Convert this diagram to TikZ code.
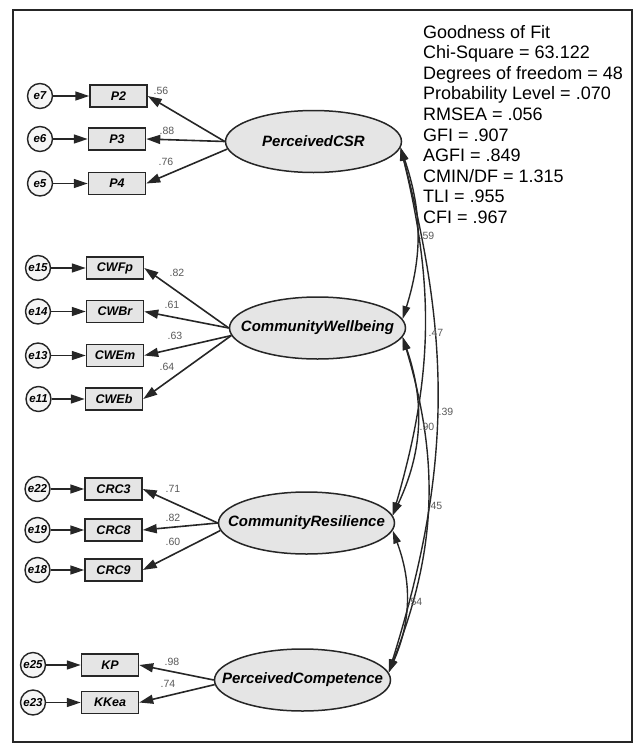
\documentclass[tikz,border=0pt]{standalone}
\usepackage{fontspec}
\setmainfont{Liberation Sans}
\usetikzlibrary{arrows.meta,shapes.geometric}
\begin{document}
\begin{tikzpicture}[x=1pt,y=-1pt,
  lat/.style={ellipse,draw=black!85,line width=1.5pt,fill=black!10,minimum width=176pt,minimum height=62pt,inner sep=0pt,font=\fontsize{15}{18}\selectfont\bfseries\itshape},
  obs/.style={rectangle,draw=black!85,line width=1.5pt,fill=black!10,minimum width=57pt,minimum height=22pt,inner sep=0pt,font=\fontsize{12.5}{14}\selectfont\bfseries\itshape},
  err/.style={circle,draw=black!85,line width=1.4pt,fill=black!4,minimum size=25pt,inner sep=0pt,font=\fontsize{11.5}{14}\selectfont\bfseries\itshape},
  arr/.style={line width=1.6pt,draw=black!85,-{Triangle[length=14pt,width=9pt]}},
  cov/.style={line width=1.4pt,draw=black!85,{Triangle[length=13pt,width=7.5pt]}-{Triangle[length=13pt,width=7.5pt]}},
  lab/.style={font=\fontsize{10.5}{12}\selectfont,text=black!65,inner sep=0pt},
  fitl/.style={font=\fontsize{18}{20}\selectfont,anchor=base west,inner sep=0pt}]
\useasboundingbox (0,0) rectangle (635,744);
\draw[line width=2pt,draw=black!85] (13,10) rectangle (632,742);

% latent variables
\node[lat] (csr) at (313.5,141.5) {\makebox[0pt]{PerceivedCSR}};
\node[lat] (cw) at (317.5,328) {\makebox[0pt]{CommunityWellbeing}};
\node[lat] (cr) at (306.5,523) {\makebox[0pt]{CommunityResilience}};
\node[lat] (pc) at (302.5,680) {\makebox[0pt]{PerceivedCompetence}};

% observed variables
\node[obs] (p2) at (118.5,96) {P2};
\node[obs] (p3) at (117,139) {P3};
\node[obs] (p4) at (117,183.5) {P4};
\node[obs] (cwfp) at (115,268) {CWFp};
\node[obs] (cwbr) at (115,311.5) {CWBr};
\node[obs] (cwem) at (115,355.5) {CWEm};
\node[obs] (cweb) at (114,399) {CWEb};
\node[obs] (crc3) at (113.5,489) {CRC3};
\node[obs] (crc8) at (113.5,530) {CRC8};
\node[obs] (crc9) at (113.5,570) {CRC9};
\node[obs] (kp) at (110,665) {KP};
\node[obs] (kkea) at (110,702.5) {KKea};

% errors
\node[err] (e7) at (40,96) {e7};
\node[err] (e6) at (40,139) {e6};
\node[err] (e5) at (40,183.5) {e5};
\node[err] (e15) at (38,268) {e15};
\node[err] (e14) at (38,311.5) {e14};
\node[err] (e13) at (38,355.5) {e13};
\node[err] (e11) at (38.5,399) {e11};
\node[err] (e22) at (37.5,489) {e22};
\node[err] (e19) at (37.5,530) {e19};
\node[err] (e18) at (37.5,570) {e18};
\node[err] (e25) at (33,665) {e25};
\node[err] (e23) at (33,702.5) {e23};

% error arrows
\foreach \e/\o in {e7/p2,e6/p3,e5/p4,e15/cwfp,e14/cwbr,e13/cwem,e11/cweb,e22/crc3,e19/crc8,e18/crc9,e25/kp,e23/kkea}
  \draw[arr] (\e) -- (\o);

% loadings
\draw[arr] (csr.west) -- (p2.east);
\draw[arr] (csr.west) -- (p3.east);
\draw[arr] (csr.185) -- (p4.east);
\draw[arr] (cw.west) -- (cwfp.east);
\draw[arr] (cw.west) -- (cwbr.east);
\draw[arr] (cw.185) -- (cwem.east);
\draw[arr] (cw.185) -- (cweb.east);
\draw[arr] (cr.west) -- (crc3.east);
\draw[arr] (cr.west) -- (crc8.east);
\draw[arr] (cr.185) -- (crc9.east);
\draw[arr] (pc.west) -- (kp.east);
\draw[arr] (pc.183) -- (kkea.east);

\node[lab] at (161,91) {.56};
\node[lab] at (167,131) {.88};
\node[lab] at (166,162) {.76};
\node[lab] at (177,273) {.82};
\node[lab] at (172,305) {.61};
\node[lab] at (175,336) {.63};
\node[lab] at (167,367) {.64};
\node[lab] at (173,489) {.71};
\node[lab] at (173,518) {.82};
\node[lab] at (173,542) {.60};
\node[lab] at (172,662) {.98};
\node[lab] at (168,684) {.74};

% covariances
\draw[cov] (csr.-4) to[bend left=18] (cw.6);
\draw[cov] (csr.-4) to[bend left=15] (cr.5);
\draw[cov] (csr.-4) to[bend left=16] (pc.5);
\draw[cov] (cw.-6) to[bend left=22] (cr.5);
\draw[cov] (cw.-6) to[bend left=19] (pc.5);
\draw[cov] (cr.-5) to[bend left=22] (pc.5);

\node[lab] at (427,236) {.59};
\node[lab] at (436,333) {.47};
\node[lab] at (446,412) {.39};
\node[lab] at (427,427) {.90};
\node[lab] at (435,506) {.45};
\node[lab] at (415,602) {.54};

% fit statistics
\node[fitl] (g0) at (423,38) {Goodness of Fit};
\node[fitl] (g1) at (423,58.6) {Chi-Square = 63.122};
\node[fitl] (g2) at (423,79.2) {Degrees of freedom = 48};
\node[fitl] (g3) at (423,99.8) {Probability Level = .070};
\node[fitl] (g4) at (423,120.4) {RMSEA = .056};
\node[fitl] (g5) at (423,141) {GFI = .907};
\node[fitl] (g6) at (423,161.6) {AGFI = .849};
\node[fitl] (g7) at (423,182.2) {CMIN/DF = 1.315};
\node[fitl] (g8) at (423,202.8) {TLI = .955};
\node[fitl] (g9) at (423,223.4) {CFI = .967};
\end{tikzpicture}
\end{document}
